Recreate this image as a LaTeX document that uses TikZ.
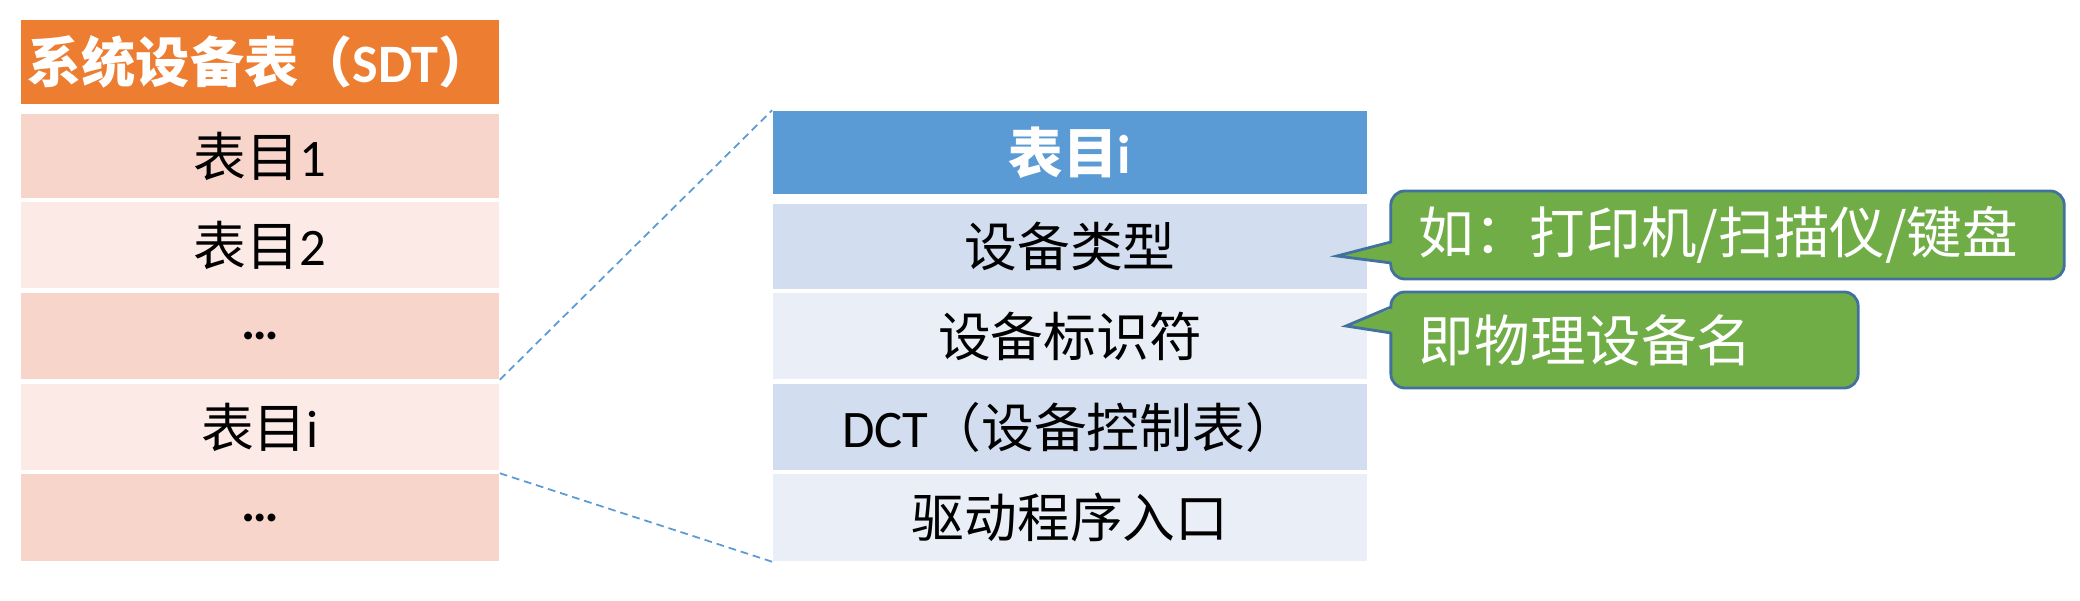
\documentclass[tikz,border=0pt]{standalone}
\usepackage{fontspec}
\setmainfont{Carlito}
\newfontfamily\cjk{Noto Sans CJK SC}
\newcommand\zh[1]{{\cjk #1}}
\definecolor{orng}{HTML}{ED7D31}
\definecolor{ldark}{HTML}{F8D5CB}
\definecolor{llight}{HTML}{FBEAE6}
\definecolor{bhead}{HTML}{5B9BD5}
\definecolor{rdark}{HTML}{D2DEEF}
\definecolor{rlight}{HTML}{EAEFF7}
\definecolor{cgreen}{HTML}{70AD47}
\definecolor{cborder}{HTML}{41719C}
\begin{document}
\begin{tikzpicture}[x=0.01cm,y=-0.01cm,
  cell/.style={inner sep=0pt, font=\fontsize{15}{18}\selectfont, text=black},
  lcell/.style={cell, minimum width=4.78cm},
  rcell/.style={cell, minimum width=5.94cm},
  callout/.style={draw=cborder, line width=0.8pt, fill=cgreen, rounded corners=0.14cm,
    text=white, font=\fontsize{15.8}{18}\selectfont\cjk, inner xsep=0.28cm, inner ysep=0pt, align=left},
  zoomline/.style={bhead, line width=0.5pt, dash pattern=on 2.2pt off 1.4pt}]
\useasboundingbox (0,0) rectangle (2080,601);
% left table
\node[lcell, fill=orng, minimum height=0.84cm, text=white, font=\fontsize{15.4}{18}\selectfont\bfseries] (T) at (260,62) {\zh{系统设备表（}SDT\zh{）}};
\node[lcell, fill=ldark, minimum height=0.84cm] (L1) at (260,156) {\zh{表目}1};
\node[lcell, fill=llight, minimum height=0.86cm] (L2) at (260,245) {\zh{表目}2};
\node[lcell, fill=ldark, minimum height=0.86cm] (L3) at (260,336) {\bfseries …};
\node[lcell, fill=llight, minimum height=0.86cm] (L4) at (260,427) {\zh{表目}i};
\node[lcell, fill=ldark, minimum height=0.87cm] (L5) at (260,517.5) {\bfseries …};
% right table
\node[rcell, fill=bhead, minimum height=0.83cm, text=white, font=\fontsize{15.5}{18}\selectfont\bfseries] (R0) at (1070,152.5) {\zh{表目}i};
\node[rcell, fill=rdark, minimum height=0.85cm] (R1) at (1070,246.5) {\zh{设备类型}};
\node[rcell, fill=rlight, minimum height=0.86cm] (R2) at (1070,336) {\zh{设备标识符}};
\node[rcell, fill=rdark, minimum height=0.86cm] (R3) at (1070,427) {DCT\zh{（设备控制表）}};
\node[rcell, fill=rlight, minimum height=0.87cm] (R4) at (1070,517.5) {\zh{驱动程序入口}};
% zoom lines
\draw[zoomline] (L3.south east) -- (R0.north west);
\draw[zoomline] (L5.north east) -- (R4.south west);
% callout 1
\node[callout, minimum height=0.88cm, text width=6.17cm] (C1) at (1727.5,235) {如：打印机/扫描仪/键盘};
\coordinate (t1) at (1337,256);
\fill[cgreen] (1396,242) -- (t1) -- (1396,263) -- cycle;
\draw[cborder, line width=0.8pt, line join=miter] (1391,242) -- (t1) -- (1391,263);
% callout 2
\node[callout, minimum height=0.96cm, text width=4.11cm] (C2) at (1624.5,340) {即物理设备名};
\coordinate (t2) at (1346,326);
\fill[cgreen] (1396,307) -- (t2) -- (1396,333) -- cycle;
\draw[cborder, line width=0.8pt, line join=miter] (1391,307) -- (t2) -- (1391,333);
\end{tikzpicture}
\end{document}
